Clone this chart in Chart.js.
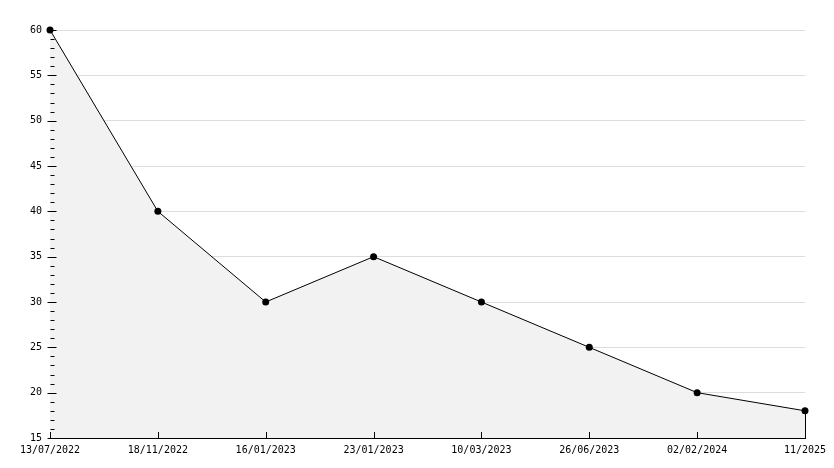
<!DOCTYPE html>
<html>
<head>
<meta charset="utf-8">
<script src="https://cdn.jsdelivr.net/npm/chart.js@4/dist/chart.umd.min.js"></script>
<style>
  html,body{margin:0;padding:0;background:#fff;}
  #wrap{width:834px;height:468px;position:relative;}
</style>
</head>
<body>
<div id="wrap"><canvas id="c" width="834" height="468"></canvas></div>
<script>
const categories = ["13/07/2022","18/11/2022","16/01/2023","23/01/2023","10/03/2023","26/06/2023","02/02/2024","11/2025"];
const values = [60, 40, 30, 35, 30, 25, 20, 18];
const yMin = 15, yMax = 60, yStep = 5, yMinorPerMajor = 5;

const tickPlugin = {
  id: 'ticksAndEdge',
  afterDatasetsDraw(chart) {
    const ctx = chart.ctx;
    const ys = chart.scales.y, xs = chart.scales.x;
    const area = chart.chartArea;
    ctx.save();
    ctx.strokeStyle = '#000';
    ctx.lineWidth = 1;
    const meta = chart.getDatasetMeta(0);
    const last = meta.data[meta.data.length - 1];
    ctx.beginPath();
    ctx.moveTo(Math.round(last.x) + 0.5, last.y);
    ctx.lineTo(Math.round(last.x) + 0.5, area.bottom);
    ctx.stroke();
    const ax = Math.round(area.left) + 0.5;
    const minorStep = yStep / yMinorPerMajor;
    for (let v = yMin; v <= yMax + 1e-9; v += minorStep) {
      const py = Math.round(ys.getPixelForValue(v)) + 0.5;
      const isMajor = Math.abs((v - yMin) / yStep - Math.round((v - yMin) / yStep)) < 1e-6;
      ctx.beginPath();
      if (isMajor) { ctx.moveTo(ax - 3, py); ctx.lineTo(ax + 6, py); }
      else { ctx.moveTo(ax, py); ctx.lineTo(ax + 4, py); }
      ctx.stroke();
    }
    const by = Math.round(area.bottom);
    for (let i = 0; i < categories.length; i++) {
      const px = Math.round(xs.getPixelForValue(i)) + 0.5;
      ctx.beginPath();
      ctx.moveTo(px, by);
      ctx.lineTo(px, by - 6);
      ctx.stroke();
    }
    ctx.restore();
  }
};

new Chart(document.getElementById('c'), {
  type: 'line',
  data: {
    labels: categories,
    datasets: [{
      data: values,
      borderColor: '#000',
      borderWidth: 1,
      backgroundColor: '#f2f2f2',
      fill: 'start',
      tension: 0,
      clip: false,
      pointRadius: 3.5,
      pointBackgroundColor: '#000',
      pointBorderColor: '#000',
      pointBorderWidth: 0,
      pointStyle: 'circle'
    }]
  },
  options: {
    responsive: false,
    animation: false,
    devicePixelRatio: 1,
    layout: { padding: { top: 30, right: 29, left: 0, bottom: 0 } },
    plugins: { legend: { display: false }, tooltip: { enabled: false } },
    scales: {
      x: {
        offset: false,
        grid: { display: true, drawOnChartArea: false, drawTicks: false },
        border: { display: true, color: '#000', width: 1 },
        ticks: {
          autoSkip: false, maxRotation: 0, minRotation: 0, padding: 6,
          color: '#000', font: { family: 'DejaVu Sans Mono', size: 10 }
        },
        afterFit(s) { s.height = 30; }
      },
      y: {
        min: yMin, max: yMax,
        grid: { color: '#dddddd', drawTicks: false, lineWidth: 1 },
        border: { display: true, color: '#000', width: 1 },
        ticks: {
          stepSize: yStep, padding: 8,
          color: '#000', font: { family: 'DejaVu Sans Mono', size: 10 }
        },
        afterFit(s) { s.width = 50; }
      }
    }
  },
  plugins: [tickPlugin]
});
</script>
</body>
</html>
